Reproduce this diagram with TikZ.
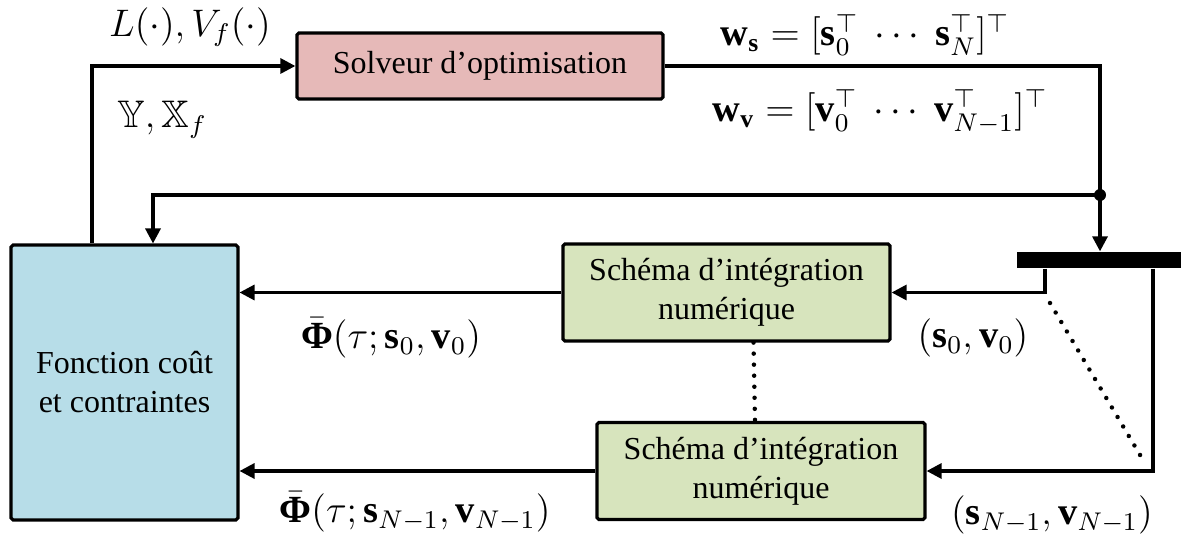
\documentclass[tikz,border=0pt]{standalone}
\usepackage{amsmath,amssymb}
\usepackage{fontspec}
\setmainfont{Liberation Serif}
\usepackage{tikz}
\usetikzlibrary{positioning,arrows.meta,calc}

\definecolor{solvcol}{HTML}{E6B9B8}
\definecolor{costcol}{HTML}{B7DDE8}
\definecolor{integcol}{HTML}{D7E4BD}

\newcommand{\bPhi}{\bar{\text{\textbf{Φ}}}}

\begin{document}
\begin{tikzpicture}[x=0.3125pt, y=-0.3125pt,
    font=\fontsize{10}{12.2}\selectfont,
    block/.style={rectangle, draw, line width=1pt, align=center, rounded corners=0.6pt, inner sep=0pt},
    arrow/.style={-{Triangle[length=4.7pt,width=4.7pt]}, line width=1pt},
    wire/.style={line width=1pt},
    dots/.style={line width=1.4pt, line cap=round, dash pattern=on 0pt off 3.45pt},
    lbl/.style={font=\fontsize{12}{14}\selectfont, inner sep=0pt},
    bar/.style={rectangle, fill=black, minimum width=51.25pt, minimum height=5pt, inner sep=0pt}]

    \useasboundingbox (0,0) rectangle (1181,542);

    % Blocks
    \node[block, fill=solvcol, minimum width=114.4pt, minimum height=20.6pt] (solver) at (480,66) {Solveur d'optimisation};
    \node[block, fill=costcol, minimum width=70.9pt, minimum height=85.9pt] (cost) at (124.5,382.5) {Fonction coût\\et contraintes};
    \node[block, fill=integcol, minimum width=102.2pt, minimum height=30.3pt] (int1) at (726.5,292.5) {Schéma d'intégration\\numérique};
    \node[block, fill=integcol, minimum width=102.5pt, minimum height=30.3pt] (int2) at (761,471) {Schéma d'intégration\\numérique};

    % Splitter
    \node[bar] (split) at (1099,260) {};
    \coordinate (tap) at (1100,195);
    \coordinate (out1) at (1045,293);
    \coordinate (outN) at (1153,472);

    % Connections
    \draw[arrow] ([shift={(-32.5,0)}]cost.north) |- (solver.west);
    \draw[wire] (solver.east) -| (tap);
    \draw[arrow] (tap) -- (tap |- split.north);
    \draw[arrow] (tap) -| ([shift={(28.5,0)}]cost.north);
    \fill (tap) circle (6);
    \draw[arrow] (split.south -| out1) |- (int1.east);
    \draw[arrow] (split.south -| outN) |- (int2.east);
    \draw[arrow] (int1.west) -- (int1.west -| cost.east);
    \draw[arrow] (int2.west) -- (int2.west -| cost.east);

    % Dotted lines
    \draw[dots] ([shift={(5,10)}]out1) -- ([shift={(-10,-12)}]outN);
    \draw[dots] ([shift={(27,0)}]int1.south) -- ([shift={(-6,0)}]int2.north);

    % Labels
    \node[lbl] (lblcost) at (190,27) {$L(\cdot), V_f(\cdot)$};
    \node[lbl] (lblset) at (162,120) {$\mathbb{Y}, \mathbb{X}_f$};
    \node[lbl] (lblws) at (865,35) {$\mathbf{w}_{\mathbf{s}} = [\mathbf{s}_0^\top \ \cdots\ \mathbf{s}_N^\top]^\top$};
    \node[lbl] (lblwv) at (880,112) {$\mathbf{w}_{\mathbf{v}} = [\mathbf{v}_0^\top \ \cdots\ \mathbf{v}_{N-1}^\top]^\top$};
    \node[lbl] (lblphi1) at (391,338) {$\bPhi(\tau; \mathbf{s}_0, \mathbf{v}_0)$};
    \node[lbl] (lblin1) at (973,338) {$(\mathbf{s}_0, \mathbf{v}_0)$};
    \node[lbl] (lblphiN) at (415,512) {$\bPhi(\tau; \mathbf{s}_{N-1}, \mathbf{v}_{N-1})$};
    \node[lbl] (lblinN) at (1052,515) {$(\mathbf{s}_{N-1}, \mathbf{v}_{N-1})$};
\end{tikzpicture}
\end{document}
